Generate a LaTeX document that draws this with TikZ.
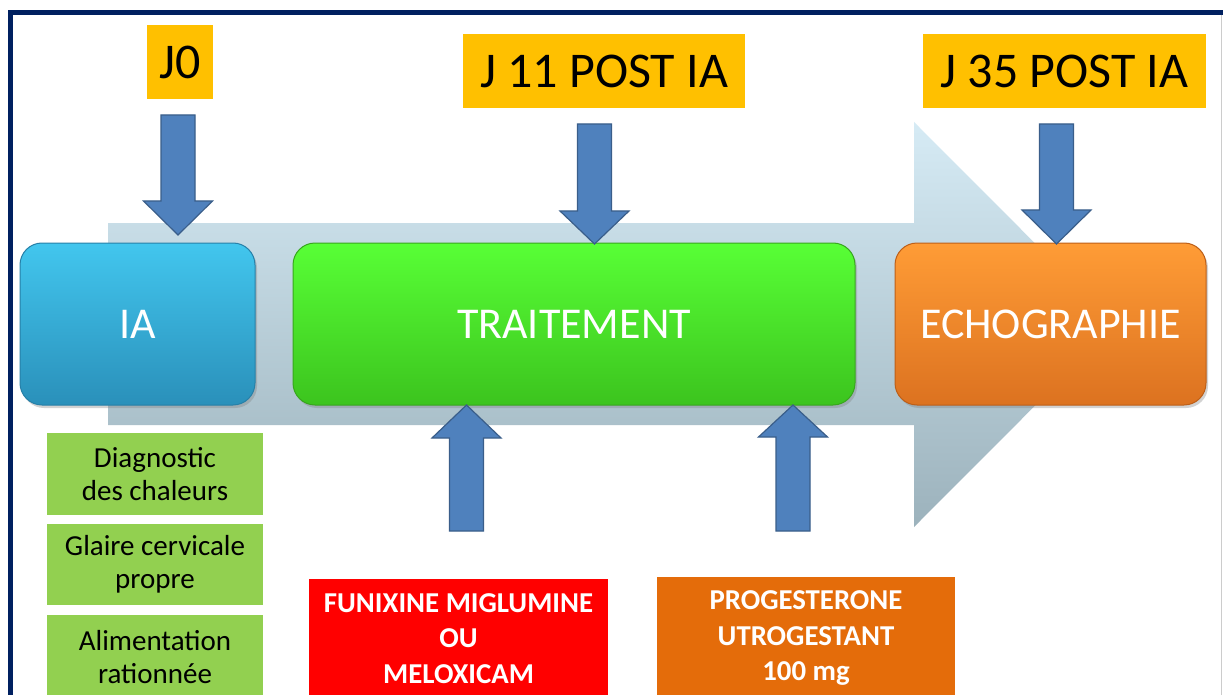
\documentclass[tikz,border=0pt]{standalone}
\usepackage{fontspec}
\setmainfont{Carlito}
\usetikzlibrary{shadows}

\definecolor{framenavy}{HTML}{002060}
\definecolor{dayyellow}{HTML}{FFC000}
\definecolor{arrowblue}{HTML}{4F81BD}
\definecolor{arrowedge}{HTML}{3A5E8A}
\definecolor{bandtop}{HTML}{D6EBF5}
\definecolor{bandbot}{HTML}{9CB2BC}
\definecolor{iatop}{HTML}{42C6EE}
\definecolor{iabot}{HTML}{2A90BA}
\definecolor{iaedge}{HTML}{2780A8}
\definecolor{trtop}{HTML}{58FF36}
\definecolor{trbot}{HTML}{3CC41E}
\definecolor{tredge}{HTML}{38A61E}
\definecolor{ectop}{HTML}{FF9C36}
\definecolor{ecbot}{HTML}{DC7220}
\definecolor{ecedge}{HTML}{BD5F18}
\definecolor{sidegreen}{HTML}{92D050}
\definecolor{drugred}{HTML}{FF0000}
\definecolor{drugorange}{HTML}{E46C0A}

% block arrow: centre x, base y, head base y, tip y
\newcommand{\blockarrow}[4]{%
  \draw[blockarrowstyle] (#1-17,#2) -- (#1+17,#2) -- (#1+17,#3) -- (#1+34.5,#3)
    -- (#1,#4) -- (#1-34.5,#3) -- (#1-17,#3) -- cycle;}

\begin{document}
\begin{tikzpicture}[x=1pt,y=-1pt,
  daybox/.style={fill=dayyellow, inner sep=0pt, text=black,
    font=\fontsize{50}{60}\selectfont, minimum height=74pt},
  stagebox/.style={rounded corners=22pt, line width=1pt, text=white,
    font=\fontsize{44}{52}\selectfont, minimum height=162pt, inner sep=0pt,
    drop shadow={opacity=0.35, shadow xshift=2pt, shadow yshift=-3pt}},
  sidebox/.style={fill=sidegreen, inner sep=0pt, text=black, align=center,
    minimum width=216pt, font=\fontsize{29}{33}\selectfont},
  drugbox/.style={inner sep=0pt, text=white, align=center,
    font=\bfseries\fontsize{28.8}{35.5}\selectfont},
  blockarrowstyle/.style={fill=arrowblue, draw=arrowedge, line width=1.2pt,
    line join=miter}
]
\useasboundingbox (0,0) rectangle (1223,695);
\clip (0,0) rectangle (1223,695);
\fill[white] (0,0) rectangle (1223,695);

% outer frame
\draw[framenavy, line width=5pt] (10,12.5) rectangle (1260,740);
\draw[black!20, line width=1pt] (1221,15) -- (1221,695);

% wide background arrow
\shade[top color=bandtop, bottom color=bandbot]
  (108,223) -- (914,223) -- (914,122) -- (1116,324.5) -- (914,527)
  -- (914,425) -- (108,425) -- cycle;

% day labels
\node[daybox, minimum width=66pt] (j0) at (179.7,62.5) {J0};
\node[daybox, minimum width=282pt] (j11) at (604,71) {J 11 POST IA};
\node[daybox, minimum width=283pt] (j35) at (1064.5,71) {J 35 POST IA};

% stages
\node[stagebox, top color=iatop, bottom color=iabot, draw=iaedge,
  minimum width=235pt] (ia) at (137.5,324) {IA};
\node[stagebox, top color=trtop, bottom color=trbot, draw=tredge,
  minimum width=562pt] (trait) at (574,324) {TRAITEMENT};
\node[stagebox, top color=ectop, bottom color=ecbot, draw=ecedge,
  minimum width=311pt] (echo) at (1050.5,324) {ECHOGRAPHIE};

% down arrows from the day labels
\blockarrow{178}{115}{201}{235}
\blockarrow{594.5}{124}{211}{244}
\blockarrow{1056.5}{124}{210}{244}

% up arrows from the treatments
\blockarrow{466.5}{531}{438}{405}
\blockarrow{793}{531}{437}{405}

% conditions at insemination
\node[sidebox, minimum height=82pt] (diag) at (155,474) {Diagnostic\\des chaleurs};
\node[sidebox, minimum height=81pt] (glaire) at (155,564.5) {Glaire cervicale\\propre};
\node[sidebox, minimum height=84pt] (alim) at (155,657) {Alimentation\\rationnée};

% treatments
\node[drugbox, fill=drugred, minimum width=299pt, minimum height=119pt]
  (funix) at (458.5,638.5) {FUNIXINE MIGLUMINE\\OU\\MELOXICAM};
\node[drugbox, fill=drugorange, minimum width=298pt, minimum height=122pt]
  (proge) at (806,638) {PROGESTERONE\\UTROGESTANT\\100 mg};
\end{tikzpicture}
\end{document}
